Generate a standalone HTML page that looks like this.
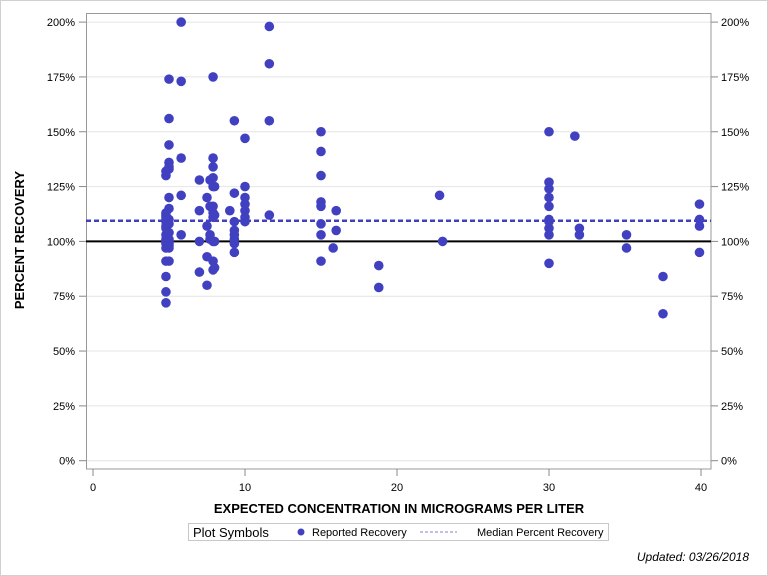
<!DOCTYPE html>
<html><head><meta charset="utf-8"><style>
html,body{margin:0;padding:0;background:#fff;}
svg{display:block;font-family:"Liberation Sans",Arial,sans-serif;}
</style></head><body>
<svg id="chart" width="768" height="576" viewBox="0 0 768 576">
<rect x="0.5" y="0.5" width="767" height="575" fill="#fff" stroke="#d0d0d0"/>
<g id="grid"></g>
<g id="axes"></g>
<g id="marks"></g>
<text x="399" y="513" text-anchor="middle" font-size="13" font-weight="bold" fill="#000">EXPECTED CONCENTRATION IN MICROGRAMS PER LITER</text>
<text transform="translate(24,240) rotate(-90)" text-anchor="middle" font-size="13" font-weight="bold" fill="#000">PERCENT RECOVERY</text>
<g>
<rect x="188.5" y="523.5" width="420" height="17" fill="#fff" stroke="#c8c8c8"/>
<text x="193" y="537" font-size="13" fill="#000">Plot Symbols</text>
<circle cx="301" cy="532" r="3.5" fill="#4040c0"/>
<text x="312" y="536" font-size="11" fill="#000">Reported Recovery</text>
<line x1="420" y1="532" x2="457" y2="532" stroke="#8080d0" stroke-dasharray="3,2"/>
<text x="477" y="536" font-size="11" fill="#000">Median Percent Recovery</text>
</g>
<text x="749" y="561" text-anchor="end" font-size="12" font-style="italic" fill="#000">Updated: 03/26/2018</text>
</svg>
<script>
const xTicks=[0,10,20,30,40];
const yTicks=[0,25,50,75,100,125,150,175,200];
const xVals=[4.8,4.8,4.8,4.8,4.8,4.8,4.8,4.8,4.8,4.8,4.8,4.8,4.8,4.8,4.8,4.8,4.8,4.8,
5,5,5,5,5,5,5,5,5,5,5,5,5,5,5,5,5,
5.8,5.8,5.8,5.8,5.8,
7,7,7,7,
7.5,7.5,7.5,7.5,
7.7,7.7,7.7,7.7,
7.9,7.9,7.9,7.9,7.9,7.9,7.9,7.9,7.9,7.9,7.9,
8,8,8,8,
9,
9.3,9.3,9.3,9.3,9.3,9.3,9.3,9.3,
10,10,10,10,10,10,10,
11.6,11.6,11.6,11.6,
15,15,15,15,15,15,15,15,
15.8,16,16,
18.8,18.8,
22.8,23,
30,30,30,30,30,30,30,30,30,30,
31.7,32,32,
35.1,35.1,
37.5,37.5,
39.9,39.9,39.9,39.9];
const yVals=[72,77,84,91,97,99,100,101,103,106,107,109,110,111,112,113,130,132,
91,97,98,99,100,101,104,108,110,115,120,133,134,136,144,156,174,
200,173,138,121,103,
128,114,100,86,
120,107,93,80,
128,116,103,101,
175,138,134,129,125,116,113,111,100,91,87,
125,112,100,88,
114,
155,122,109,105,103,101,99,95,
147,125,120,117,114,111,109,
198,181,155,112,
150,141,130,118,116,108,103,91,
97,114,105,
89,79,
121,100,
150,127,124,120,116,110,109,106,103,90,
148,106,103,
103,97,
84,67,
117,110,107,95];
const medianValue=[109.4];
const refValue=[100];
const X=v=>93+v*15.2;
const Y=v=>460.7-v*2.193;
const NS="http://www.w3.org/2000/svg";
function mk(tag,attrs,parent){const e=document.createElementNS(NS,tag);for(const k in attrs)e.setAttribute(k,attrs[k]);document.getElementById(parent).appendChild(e);return e;}
yTicks.forEach(t=>{
 const g=mk('line',{x1:86,x2:711,y1:Y(t),y2:Y(t),stroke:'#e4e4e4'},'grid');
 
 
 const tl=mk('line',{x1:79,x2:86,y1:Y(t),y2:Y(t),stroke:'#888'},'axes');
 
 
 const tr=mk('line',{x1:711,x2:718,y1:Y(t),y2:Y(t),stroke:'#888'},'axes');
 
 
 const l=mk('text',{x:75,y:Y(t)+4,'text-anchor':'end','font-size':11,fill:'#000'},'axes');
 l.textContent=t+'%';
 
 
 const r=mk('text',{x:721,y:Y(t)+4,'font-size':11,fill:'#000'},'axes');
 r.textContent=t+'%';
 
 
});
const fr=mk('rect',{x:86.5,y:13.5,width:624.5,height:455.5,fill:'none',stroke:'#999'},'axes');


xTicks.forEach(t=>{
 const tk=mk('line',{x1:X(t),x2:X(t),y1:469,y2:476,stroke:'#888'},'axes');
 
 
 const l=mk('text',{x:X(t),y:491,'text-anchor':'middle','font-size':11,fill:'#000'},'axes');
 l.textContent=t;
 
 
});
const ref=mk('line',{x1:86,x2:711,y1:Y(refValue[0]),y2:Y(refValue[0]),stroke:'#000','stroke-width':2},'marks');


const med=mk('line',{x1:86,x2:711,y1:Y(medianValue[0]),y2:Y(medianValue[0]),stroke:'#4040c0','stroke-width':2.5,'stroke-dasharray':'5,3'},'marks');


xVals.forEach((x,i)=>{
 const c=mk('circle',{cx:X(x),cy:Y(yVals[i]),r:4.8,fill:'#4040c0'},'marks');
 
 
});
</script>
</body></html>
